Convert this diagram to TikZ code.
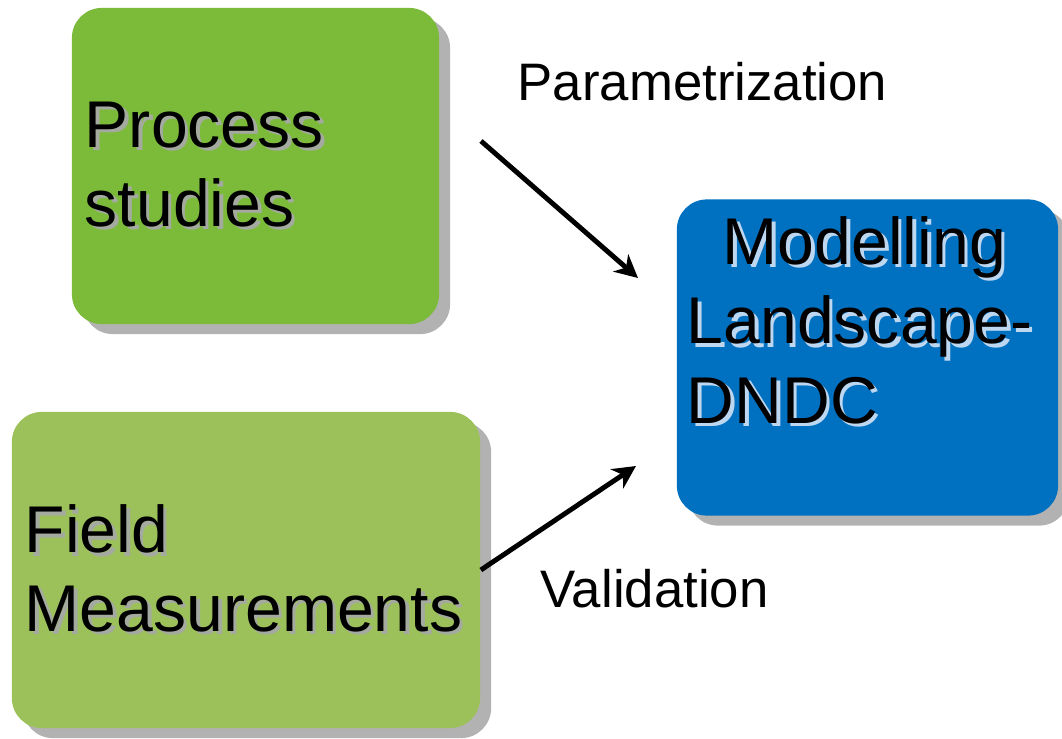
\documentclass[tikz,border=0pt]{standalone}
\usepackage{fontspec}
\setmainfont{Liberation Sans}
\usetikzlibrary{
  positioning,
  shadows,
  arrows.meta
}
\definecolor{procgreen}{RGB}{123,187,57}
\definecolor{fieldgreen}{RGB}{157,193,90}
\definecolor{modelblue}{RGB}{0,112,192}
\definecolor{shadowgray}{RGB}{178,178,178}
\definecolor{txtgray}{RGB}{165,170,160}
\definecolor{txtpale}{RGB}{190,215,240}
\tikzstyle{arrow}     = [line width=1.4pt,-{Stealth[length=6.5pt,width=6.5pt,inset=2pt]}]
% text line with a soft shadow behind it
\newcommand{\shline}[2]{\makebox[0pt][l]{\kern1pt\raisebox{-1pt}{\textcolor{#1}{#2}}}#2}

\begin{document}
\begin{tikzpicture}[x=0.01cm,y=-0.01cm,
boxnode/.style={rectangle, rounded corners=0.3cm, minimum height=3.16cm, inner xsep=0.13cm,
  drop shadow={shadow xshift=0.11cm, shadow yshift=-0.1cm, fill=shadowgray, opacity=1},
  font=\fontsize{18.8}{22.4}\selectfont, align=left},
labelnode/.style={inner sep=0pt, font=\fontsize{15}{18}\selectfont},
]
\useasboundingbox (0,0) rectangle (1062,739);
%Nodes
\node[boxnode, fill=procgreen,  minimum width=3.67cm, text width=3.41cm] (proc)  at (255.5,166)
  {\shline{txtgray}{Process}\\\shline{txtgray}{studies}};
\node[boxnode, fill=fieldgreen, minimum width=4.68cm, text width=4.42cm] (field) at (246,570)
  {\shline{txtgray}{Field}\\\shline{txtgray}{Measurements}};
\node[boxnode, fill=modelblue,  minimum width=3.81cm] (model) at (867.5,357.5) {};
\node[inner sep=0pt, anchor=north west, align=left, font=\fontsize{18.8}{22.6}\selectfont]
  (modeltxt) at ([shift={(0.1cm,-0.17cm)}]model.north west)
  {\hspace*{0.36cm}\shline{txtpale}{Modelling}\\\shline{txtpale}{Landscape-}\\\shline{txtpale}{DNDC}};
\node[labelnode, anchor=base west] (param) at (517,100) {Parametrization};
\node[labelnode, anchor=base west] (valid) at (540,607) {Validation};

%Lines
\coordinate (pstart) at (481,141);
\coordinate (pend)   at (638,278);
\coordinate (vend)   at (636,466);
\draw[arrow] (pstart) -- (pend);
\draw[arrow] (field.east) -- (vend);
\end{tikzpicture}
\end{document}
